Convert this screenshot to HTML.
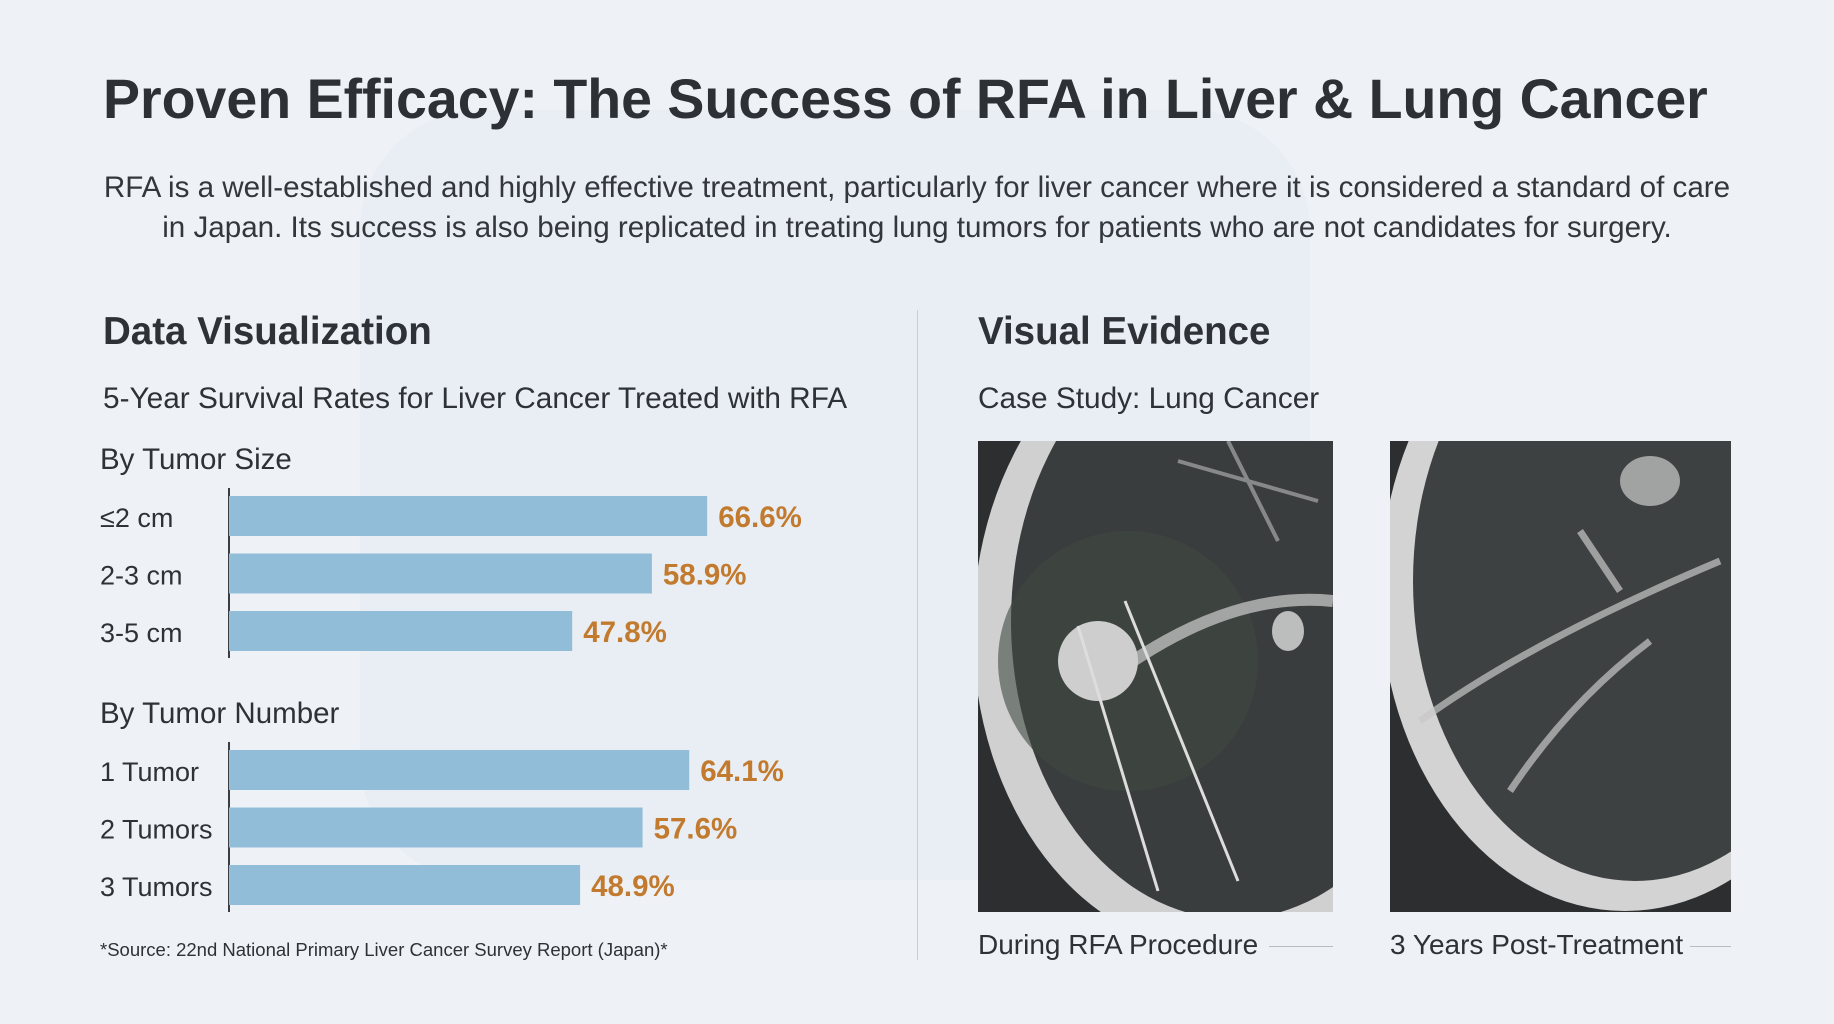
<!DOCTYPE html>
<html><head><meta charset="utf-8">
<style>
html,body{margin:0;padding:0}
body{width:1834px;height:1024px;background:#eef2f7;position:relative;overflow:hidden;font-family:"Liberation Sans",sans-serif;color:#2e3136}
.t{position:absolute;white-space:nowrap}
</style></head><body>
<svg style="position:absolute;left:0;top:0" width="1834" height="1024">
<rect x="360" y="110" width="950" height="770" rx="120" fill="#e6ebf1" opacity="0.6"/>
</svg>
<div class="t" style="left:103px;top:67px;font-size:55.5px;font-weight:bold;color:#2d3035">Proven Efficacy: The Success of RFA in Liver &amp; Lung Cancer</div>
<div class="t" style="left:40px;width:1754px;top:168px;font-size:29.6px;line-height:40px;text-align:center;white-space:normal;color:#33363b">RFA is a well-established and highly effective treatment, particularly for liver cancer where it is considered a standard of care<br>in Japan. Its success is also being replicated in treating lung tumors for patients who are not candidates for surgery.</div>
<div class="t" style="left:103px;top:310px;font-size:38.5px;font-weight:bold">Data Visualization</div>
<div class="t" style="left:103px;top:382px;font-size:29.8px">5-Year Survival Rates for Liver Cancer Treated with RFA</div>
<div style="position:absolute;left:917px;top:310px;width:1px;height:650px;background:#c9ced4"></div>
<svg id="chart" style="position:absolute;left:0;top:0" width="917" height="1024"></svg>
<div class="t" style="left:100px;top:939px;font-size:18.5px">*Source: 22nd National Primary Liver Cancer Survey Report (Japan)*</div>
<div class="t" style="left:978px;top:310px;font-size:38.5px;font-weight:bold">Visual Evidence</div>
<div class="t" style="left:978px;top:382px;font-size:29.8px">Case Study: Lung Cancer</div>
<svg style="position:absolute;left:978px;top:441px" width="355" height="471">
<rect width="355" height="471" fill="#2c2e30"/>
<ellipse cx="240" cy="190" rx="245" ry="320" fill="#d0d0d0"/>
<ellipse cx="255" cy="180" rx="222" ry="298" fill="#3a3d3e"/>
<ellipse cx="150" cy="220" rx="130" ry="130" fill="#3f4a42" opacity="0.6"/>
<ellipse cx="120" cy="220" rx="40" ry="40" fill="#e6e6e6" opacity="0.85"/>
<path d="M155 220 Q260 150 355 160" stroke="#cfcfcf" stroke-width="12" fill="none" opacity="0.7"/>
<ellipse cx="310" cy="190" rx="16" ry="20" fill="#ddd" opacity="0.8"/>
<line x1="100" y1="185" x2="180" y2="450" stroke="#ddd" stroke-width="3"/>
<line x1="147" y1="160" x2="260" y2="440" stroke="#ddd" stroke-width="3"/>
<path d="M250 0 L300 100 M200 20 L340 60" stroke="#bbb" stroke-width="4" opacity="0.6"/>
</svg>
<svg style="position:absolute;left:1390px;top:441px" width="341" height="471">
<rect width="341" height="471" fill="#2c2e30"/>
<ellipse cx="235" cy="150" rx="245" ry="320" fill="#d3d3d3"/>
<ellipse cx="245" cy="140" rx="222" ry="300" fill="#3e4142"/>
<path d="M30 280 Q140 200 330 120 M120 350 Q180 260 260 200 M190 90 L230 150" stroke="#c8c8c8" stroke-width="7" fill="none" opacity="0.7"/>
<ellipse cx="260" cy="40" rx="30" ry="25" fill="#ccc" opacity="0.7"/>
</svg>
<div class="t" style="left:978px;top:929px;font-size:28px">During RFA Procedure</div>
<div style="position:absolute;left:1269px;top:946px;width:64px;height:1px;background:#b8bdc3"></div>
<div class="t" style="left:1390px;top:929px;font-size:28px">3 Years Post-Treatment</div>
<div style="position:absolute;left:1690px;top:946px;width:41px;height:1px;background:#b8bdc3"></div>
<script>
const sizeCategories = ["≤2 cm","2-3 cm","3-5 cm"];
const sizeValues = [66.6,58.9,47.8];
const numberCategories = ["1 Tumor","2 Tumors","3 Tumors"];
const numberValues = [64.1,57.6,48.9];
const groupTitles = ["By Tumor Size","By Tumor Number"];
const NS="http://www.w3.org/2000/svg";
const svg=document.getElementById('chart');
const x0=229, pxPer=7.18;
const xScale=v=>v*pxPer;
function mk(t,a){const e=document.createElementNS(NS,t);for(const k in a)e.setAttribute(k,a[k]);svg.appendChild(e);return e;}
function group(title,cats,vals,top){
  const tt=mk('text',{x:100,y:top-27,'font-size':29.5,fill:'#2e3136'});tt.textContent=title;
  
  
  const ax=mk('line',{x1:x0,x2:x0,y1:top-8,y2:top+162,stroke:'#3a3d42','stroke-width':2});
  
  
  cats.forEach((c,i)=>{
    const y=top+i*57.5;
    const r=mk('rect',{x:x0,y:y,width:xScale(vals[i]),height:40,fill:'#92bdd9'});
    
    
    const l=mk('text',{x:100,y:y+31,'font-size':27,fill:'#2e3136'});l.textContent=c;
    
    
    const v=mk('text',{x:x0+xScale(vals[i])+11,y:y+31,'font-size':29.5,'font-weight':'bold',fill:'#c27b2e'});v.textContent=vals[i].toFixed(1)+'%';
    
    
  });
}
group(groupTitles[0],sizeCategories,sizeValues,496);
group(groupTitles[1],numberCategories,numberValues,750);
</script>
</body></html>
